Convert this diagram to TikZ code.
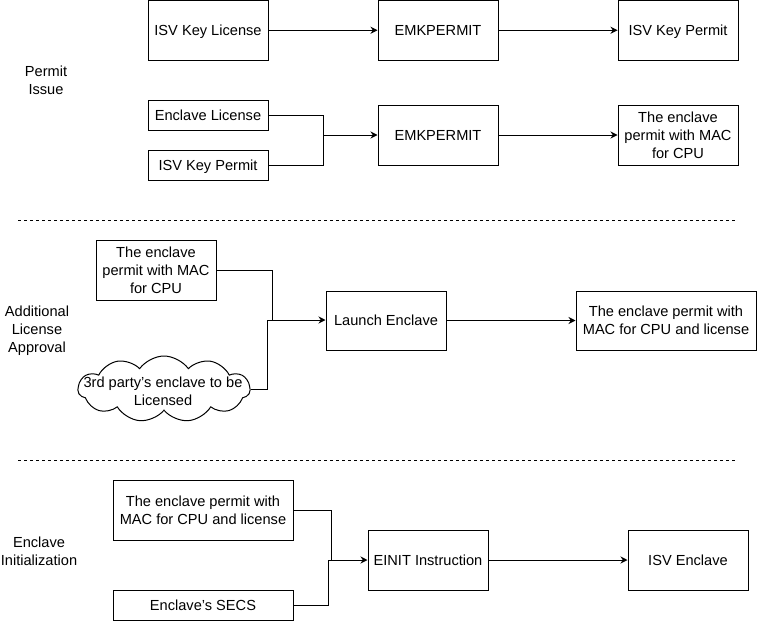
\documentclass[tikz,border=0pt]{standalone}
\usepackage{fontspec}
\setmainfont{Liberation Sans}
\usetikzlibrary{arrows.meta,shapes.symbols}
\begin{document}
\begin{tikzpicture}[x=1pt,y=-1pt,
  every node/.style={font=\fontsize{14.6}{18}\selectfont, align=center, text=black},
  box/.style={draw, line width=1pt, inner sep=0pt, text depth=0pt},
  lbl/.style={inner sep=0pt},
  conn/.style={line width=1pt},
  arr/.style={line width=1pt, -{Stealth[length=7pt,width=7pt]}},
  sep/.style={line width=0.8pt, dash pattern=on 3pt off 3pt}]
\useasboundingbox (0,0) rectangle (757,621);
% Permit issue
\node[lbl] (l1) at (46,80) {Permit\\Issue};
\node[box, minimum width=120pt, minimum height=59.5pt] (ikl) at (208,30.25) {ISV Key License};
\node[box, minimum width=120pt, minimum height=59.5pt] (emk1) at (438,30.25) {EMKPERMIT};
\node[box, minimum width=120pt, minimum height=59.5pt] (ikp) at (678,30.25) {ISV Key Permit};
\draw[arr] (ikl) -- (emk1);
\draw[arr] (emk1) -- (ikp);
\node[box, minimum width=120pt, minimum height=30pt] (el) at (208,115) {Enclave License};
\node[box, minimum width=120pt, minimum height=30pt] (ikp2) at (208,165) {ISV Key Permit};
\node[box, minimum width=120pt, minimum height=60pt] (emk2) at (438,135) {EMKPERMIT};
\node[box, minimum width=120pt, minimum height=60pt] (ep1) at (678,135) {The enclave\\permit with MAC\\for CPU};
\coordinate (j1) at (323,135);
\draw[conn] (el.east) -| (j1);
\draw[conn] (ikp2.east) -| (j1);
\draw[arr] (j1) -- (emk2);
\draw[arr] (emk2) -- (ep1);
\draw[sep] (18,220) -- (736,220);
% Additional license approval
\node[lbl] (l2) at (37,331) {Additional\\License\\Approval};
\node[box, minimum width=120pt, minimum height=60pt] (ep2) at (156,270) {The enclave\\permit with MAC\\for CPU};
\node[draw, line width=1pt, cloud, cloud puffs=11, cloud puff arc=110, aspect=2.6, minimum width=172pt, minimum height=66pt, inner sep=0pt] (cl) at (164,389) {};
\node[lbl] (clt) at (163,391) {3rd party's enclave to be\\Licensed};
\node[box, minimum width=120pt, minimum height=59pt] (le) at (386,320.5) {Launch Enclave};
\node[box, minimum width=180pt, minimum height=59pt] (epl) at (666,320.5) {The enclave permit with\\MAC for CPU and license};
\coordinate (j2) at (272,320);
\coordinate (j3) at (267,320);
\draw[conn] (ep2.east) -| (j2);
\draw[conn] (cl.east |- 0,389) -| (j3);
\draw[arr] (j3) -- (le.west |- j3);
\draw[arr] (le) -- (epl);
\draw[sep] (18,460) -- (736,460);
% Enclave initialization
\node[lbl] (l3) at (39,551) {Enclave\\Initialization};
\node[box, minimum width=180pt, minimum height=60pt] (epl2) at (203,510) {The enclave permit with\\MAC for CPU and license};
\node[box, minimum width=180pt, minimum height=30pt] (secs) at (203,605) {Enclave's SECS};
\node[box, minimum width=120pt, minimum height=60pt] (einit) at (428,560) {EINIT Instruction};
\node[box, minimum width=120pt, minimum height=60pt] (isve) at (688,560) {ISV Enclave};
\coordinate (j4) at (331,560);
\coordinate (j5) at (328,560);
\draw[conn] (epl2.east) -| (j4);
\draw[conn] (secs.east) -| (j5);
\draw[arr] (j5) -- (einit);
\draw[arr] (einit) -- (isve);
\end{tikzpicture}
\end{document}
